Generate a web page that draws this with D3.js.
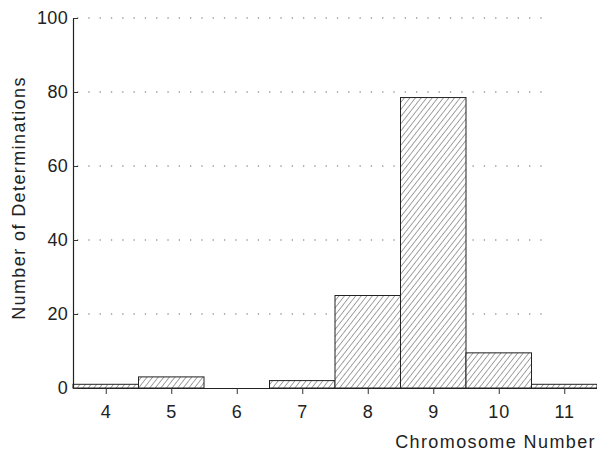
<!DOCTYPE html>
<html>
<head>
<meta charset="utf-8">
<script src="https://cdn.jsdelivr.net/npm/d3@7"></script>
<style>
  body { margin: 0; background: #fff; }
  text { font-family: "Liberation Sans", Arial, Helvetica, sans-serif; fill: #222; }
</style>
</head>
<body>
<svg id="chart" width="597" height="452"></svg>
<script>
// chromosome counts (histogram bins) and number of determinations
var chromosomes = [4, 5, 6, 7, 8, 9, 10, 11];
var determinations = [1, 3, 0, 2, 25, 78.5, 9.5, 1];
var yTicks = [0, 20, 40, 60, 80, 100];
var gridLevels = [20, 40, 60, 80, 100];

var svg = d3.select("#chart"),
    plotLeft = 73, plotRight = 597, plotTop = 18, plotBottom = 388;

var x = d3.scaleLinear().domain([3.5, 11.5]).range([plotLeft, plotRight]);
var y = d3.scaleLinear().domain([0, 100]).range([plotBottom, plotTop]);

// hatch pattern for the bars
var pat = svg.append("defs").append("pattern")
    .attr("id", "hatch")
    .attr("patternUnits", "userSpaceOnUse")
    .attr("width", 4.4)
    .attr("height", 4.4)
    .attr("patternTransform", "rotate(38)");
pat.append("rect").attr("width", 4.4).attr("height", 4.4).attr("fill", "#fff");
pat.append("line")
    .attr("x1", 0).attr("y1", 0).attr("x2", 0).attr("y2", 4.4)
    .attr("stroke", "#333").attr("stroke-width", 0.9);

// dotted grid lines
svg.append("g").selectAll("line")
  .data(gridLevels)
  .enter().append("line")
    .attr("x1", plotLeft + 4)
    .attr("x2", x(10.7))
    .attr("y1", function(d) { return y(d); })
    .attr("y2", function(d) { return y(d); })
    .attr("stroke", "#666")
    .attr("stroke-width", 1.2)
    .attr("stroke-dasharray", "1.3,10");

// bars
var bins = chromosomes.map(function(c, i) { return {c: c, v: determinations[i]}; })
    .filter(function(d) { return d.v > 0; });

svg.append("g").selectAll("rect")
  .data(bins)
  .enter().append("rect")
    .attr("x", function(d) { return x(d.c - 0.5); })
    .attr("width", function(d) { return x(d.c + 0.5) - x(d.c - 0.5); })
    .attr("y", function(d) { return y(d.v); })
    .attr("height", function(d) { return plotBottom - y(d.v); })
    .attr("fill", "url(#hatch)")
    .attr("stroke", "#222")
    .attr("stroke-width", 1);

// x axis
var xAxis = svg.append("g")
    .attr("transform", "translate(0," + plotBottom + ")")
    .call(d3.axisBottom(x).tickValues(chromosomes).tickSize(6).tickSizeOuter(0).tickPadding(11));
xAxis.select(".domain").attr("stroke", "#222").attr("stroke-width", 1.2);
xAxis.selectAll(".tick line").attr("stroke", "#333");
xAxis.selectAll("text")
    .style("font-size", "18px")
    .style("letter-spacing", "1px")
    .attr("fill", "#222");

// y axis
var yAxis = svg.append("g")
    .attr("transform", "translate(" + plotLeft + ",0)")
    .call(d3.axisLeft(y).tickValues(yTicks).tickSize(-5).tickSizeOuter(0).tickPadding(5));
yAxis.select(".domain").attr("stroke", "#222").attr("stroke-width", 1.2);
yAxis.selectAll(".tick line").attr("stroke", "#333");
yAxis.selectAll("text")
    .style("font-size", "18px")
    .style("letter-spacing", "0.3px")
    .attr("fill", "#222");

// axis titles
svg.append("text")
    .attr("x", 596)
    .attr("y", 448)
    .attr("text-anchor", "end")
    .style("font-size", "18px")
    .style("letter-spacing", "1.4px")
    .text("Chromosome Number");

svg.append("text")
    .attr("transform", "translate(25,198) rotate(-90)")
    .attr("text-anchor", "middle")
    .style("font-size", "18px")
    .style("letter-spacing", "1.4px")
    .text("Number of Determinations");
</script>
</body>
</html>
